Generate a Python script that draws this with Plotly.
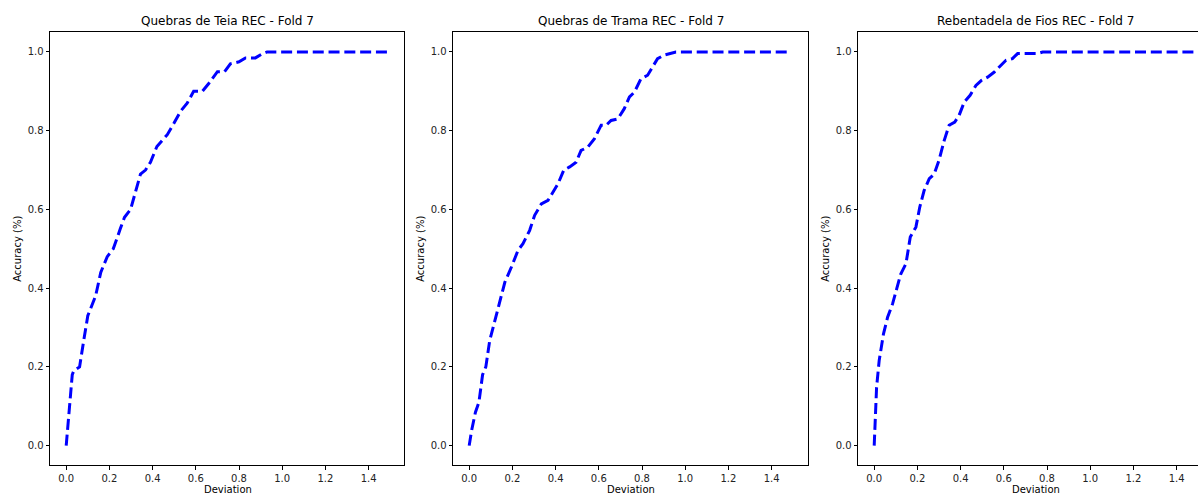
import plotly.graph_objects as go

# ---- data ----
teia_dev = [0.0, 0.028, 0.035, 0.062, 0.082, 0.10, 0.136, 0.16, 0.19, 0.218, 0.25, 0.27,
            0.298, 0.32, 0.344, 0.367, 0.39, 0.42, 0.468, 0.50, 0.53, 0.56, 0.59, 0.63,
            0.66, 0.70, 0.733, 0.76, 0.80, 0.83, 0.876, 0.907, 0.93, 1.49]
teia_acc = [0.0, 0.18, 0.19, 0.20, 0.27, 0.33, 0.38, 0.44, 0.48, 0.50, 0.55, 0.58,
            0.60, 0.64, 0.69, 0.70, 0.72, 0.76, 0.79, 0.82, 0.85, 0.87, 0.90, 0.90,
            0.92, 0.95, 0.95, 0.97, 0.975, 0.985, 0.985, 0.995, 1.0, 1.0]

trama_dev = [0.0, 0.011, 0.029, 0.045, 0.062, 0.077, 0.095, 0.118, 0.14, 0.165, 0.195,
             0.226, 0.249, 0.28, 0.303, 0.334, 0.365, 0.388, 0.411, 0.438, 0.465, 0.495,
             0.518, 0.549, 0.58, 0.611, 0.634, 0.657, 0.688, 0.718, 0.742, 0.765, 0.795,
             0.826, 0.849, 0.872, 0.903, 0.934, 0.957, 1.49]
trama_acc = [0.0, 0.038, 0.085, 0.11, 0.18, 0.20, 0.267, 0.318, 0.36, 0.415, 0.453,
             0.496, 0.513, 0.547, 0.585, 0.614, 0.623, 0.644, 0.665, 0.70, 0.708, 0.72,
             0.75, 0.758, 0.78, 0.814, 0.814, 0.826, 0.83, 0.856, 0.886, 0.898, 0.932,
             0.941, 0.962, 0.983, 0.992, 0.996, 1.0, 1.0]

fios_dev = [0.0, 0.005, 0.011, 0.023, 0.043, 0.062, 0.085, 0.105, 0.123, 0.147, 0.167,
            0.193, 0.211, 0.231, 0.255, 0.278, 0.30, 0.324, 0.347, 0.373, 0.393, 0.417,
            0.444, 0.471, 0.497, 0.525, 0.556, 0.579, 0.61, 0.64, 0.664, 0.756, 0.78, 1.49]
fios_acc = [0.0, 0.08, 0.148, 0.216, 0.284, 0.326, 0.36, 0.40, 0.436, 0.462, 0.53,
            0.555, 0.606, 0.648, 0.678, 0.69, 0.725, 0.775, 0.814, 0.822, 0.839, 0.873,
            0.89, 0.915, 0.928, 0.936, 0.949, 0.962, 0.979, 0.983, 0.996, 0.996, 1.0, 1.0]

titles = ["Quebras de Teia REC - Fold 7",
          "Quebras de Trama REC - Fold 7",
          "Rebentadela de Fios REC - Fold 7"]
x_ticks = [0.0, 0.2, 0.4, 0.6, 0.8, 1.0, 1.2, 1.4]
y_ticks = [0.0, 0.2, 0.4, 0.6, 0.8, 1.0]

series = [(teia_dev, teia_acc), (trama_dev, trama_acc), (fios_dev, fios_acc)]

W, H = 1198, 494
# pixel layout of axes boxes
x_px = [(50, 404), (453, 808), (858, 1198)]
y_top, y_bot = 32.3, 465.3
ppu = 216.0  # pixels per unit deviation

fig = go.Figure()
FONT = "DejaVu Sans"
annotations = []
for i, ((dx, ay), title, (l, r)) in enumerate(zip(series, titles, x_px)):
    sfx = "" if i == 0 else str(i + 1)
    fig.add_trace(go.Scatter(
        x=dx, y=ay, mode="lines", xaxis="x" + sfx, yaxis="y" + sfx,
        line=dict(color="#0000ff", width=3, dash="11px,4.8px"),
        showlegend=False, hoverinfo="skip"))
    xmin = -0.075
    xmax = xmin + (r - l) / ppu
    fig.layout["xaxis" + sfx] = dict(
        domain=[l / W, r / W], range=[xmin, xmax], anchor="y" + sfx,
        tickvals=x_ticks, ticktext=[f"{v:.1f}" for v in x_ticks],
        ticks="outside", ticklen=3.5, tickwidth=0.8, tickcolor="black",
        showline=True, linecolor="black", linewidth=0.8, mirror=True,
        showgrid=False, zeroline=False,
        tickfont=dict(family=FONT, size=10, color="#222222"))
    fig.layout["yaxis" + sfx] = dict(
        domain=[(H - y_bot) / H, (H - y_top) / H], range=[-0.05, 1.05],
        anchor="x" + sfx,
        tickvals=y_ticks, ticktext=[f"{v:.1f}" for v in y_ticks],
        ticks="outside", ticklen=3.5, tickwidth=0.8, tickcolor="black",
        showline=True, linecolor="black", linewidth=0.8, mirror=(i < 2),
        showgrid=False, zeroline=False,
        tickfont=dict(family=FONT, size=10, color="#222222"))
    cx = (l + (l + 355)) / 2 / W
    annotations.append(dict(text=title, x=cx, y=(H - 21) / H, xref="paper", yref="paper",
                            showarrow=False, xanchor="center", yanchor="middle",
                            font=dict(family=FONT, size=12, color="black")))
    annotations.append(dict(text="Deviation", x=cx, y=(H - 489.5) / H, xref="paper",
                            yref="paper", showarrow=False, xanchor="center",
                            yanchor="middle",
                            font=dict(family=FONT, size=10, color="black")))
    annotations.append(dict(text="Accuracy (%)", x=(l - 32) / W,
                            y=(H - (y_top + y_bot) / 2) / H, xref="paper", yref="paper",
                            showarrow=False, xanchor="center", yanchor="middle",
                            textangle=-90,
                            font=dict(family=FONT, size=10, color="black")))

fig.update_layout(width=W, height=H, margin=dict(l=0, r=0, t=0, b=0),
                  paper_bgcolor="white", plot_bgcolor="white",
                  annotations=annotations)
fig.write_html("out.html", config={"displayModeBar": False})
